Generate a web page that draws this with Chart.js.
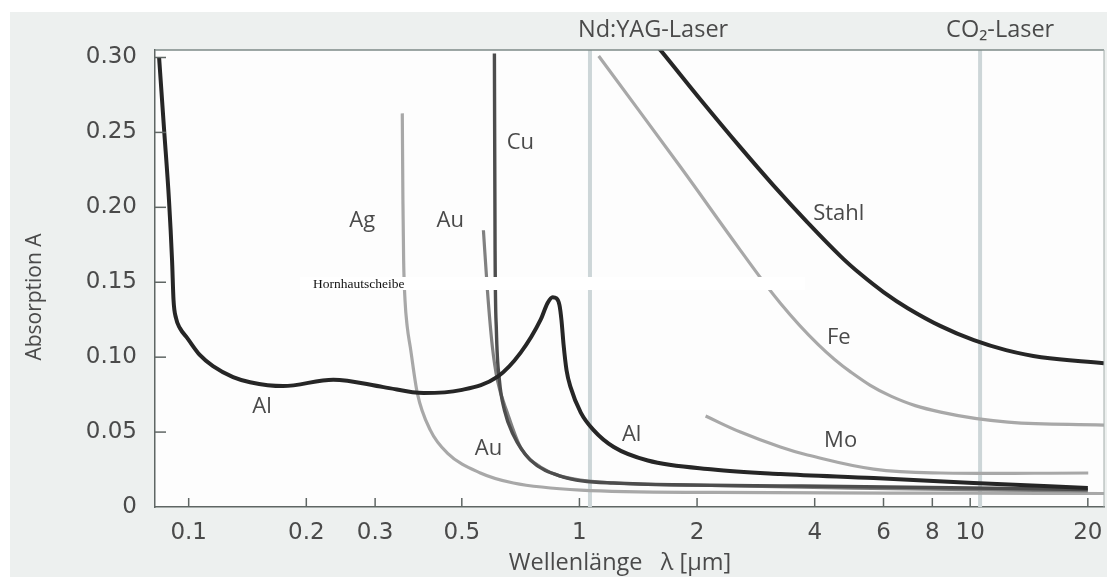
<!DOCTYPE html>
<html>
<head>
<meta charset="utf-8">
<title>Absorption A</title>
<script src="https://cdn.jsdelivr.net/npm/chart.js@4.4.1/dist/chart.umd.min.js"></script>
<style>
  html, body { margin: 0; padding: 0; background: #fff; }
  #wrap { width: 1107px; height: 577px; }
</style>
</head>
<body>
<div id="wrap"><canvas id="chart" width="1107" height="577"></canvas></div>
<script>
// wavelength in µm  ->  absorption A
const alX = [0.0840, 0.08647, 0.08905, 0.09067, 0.09146, 0.09281, 0.09501, 0.0992, 0.1069, 0.1154, 0.1299, 0.1436, 0.1744, 0.2345, 0.3153, 0.3992, 0.4966, 0.6177, 0.7073, 0.7957, 0.8283, 0.8538, 0.8733, 0.8890, 0.8995, 0.9110, 0.9268, 0.949, 1.008, 1.087, 1.224, 1.496, 2.20, 3.27, 5.66, 10.2, 20.0];
const alY = [0.300, 0.2527, 0.2047, 0.1647, 0.138, 0.126, 0.1193, 0.1127, 0.1013, 0.094, 0.0867, 0.0833, 0.0807, 0.085, 0.080, 0.076, 0.078, 0.087, 0.103, 0.125, 0.136, 0.140, 0.1393, 0.1347, 0.1247, 0.108, 0.0913, 0.080, 0.063, 0.0513, 0.040, 0.031, 0.025, 0.022, 0.0193, 0.016, 0.0127];

const agX = [0.3521, 0.3534, 0.3549, 0.3578, 0.3626, 0.3691, 0.3847, 0.4153, 0.4592, 0.5578, 0.6777, 1.0077, 2.20, 10.0, 22.0];
const agY = [0.2627, 0.2047, 0.1647, 0.138, 0.120, 0.1067, 0.076, 0.0513, 0.036, 0.0227, 0.016, 0.0113, 0.0097, 0.0092, 0.009];

const auX = [0.5679, 0.5814, 0.5988, 0.6166, 0.6542, 0.7062, 0.7948, 1.0062, 2.0, 5.0, 20.0];
const auY = [0.1847, 0.1447, 0.1067, 0.0847, 0.0627, 0.040, 0.0267, 0.018, 0.0145, 0.0125, 0.0108];

const cuX = [0.6059, 0.6083, 0.6130, 0.6240, 0.6427, 0.6777, 0.7493, 0.9102, 1.2226, 3.7, 20.0];
const cuY = [0.3027, 0.1713, 0.118, 0.0847, 0.0647, 0.048, 0.0313, 0.020, 0.016, 0.014, 0.0117];

const stahlX = [1.538, 1.6148, 2.04, 2.5826, 3.1356, 3.8329, 4.6618, 5.250, 6.011, 6.9218, 8.4036, 10.217, 12.35, 15.19, 22.0];
const stahlY = [0.311, 0.3047, 0.272, 0.240, 0.2147, 0.190, 0.1673, 0.1553, 0.1433, 0.1327, 0.1207, 0.1113, 0.1047, 0.100, 0.096];

const feX = [1.1201, 1.8163, 2.5826, 3.2677, 4.073, 4.950, 6.266, 8.404, 12.50, 22.0];
const feY = [0.301, 0.2267, 0.1713, 0.136, 0.1087, 0.090, 0.074, 0.0633, 0.0567, 0.0547];

const moX = [2.1031, 2.5826, 3.2677, 3.8329, 5.6626, 8.4036, 20.05];
const moY = [0.0607, 0.050, 0.040, 0.0347, 0.0253, 0.0227, 0.0227];

const xTicks = [0.1, 0.2, 0.3, 0.5, 1, 2, 4, 6, 8, 10, 20];
const yTicks = [0, 0.05, 0.10, 0.15, 0.20, 0.25, 0.30];

const laserX = [1.064, 10.6];
const laserNames = ["Nd:YAG-Laser", "CO\u2082-Laser"];

const curveNames = ["Ag", "Au", "Cu", "Al", "Au", "Al", "Stahl", "Fe", "Mo"];
const curveNameX = [0.278, 0.467, 0.706, 0.154, 0.585, 1.36, 4.61, 4.61, 4.66];
const curveNameY = [0.191, 0.191, 0.243, 0.067, 0.039, 0.048, 0.196, 0.113, 0.044];

const FONT = "'Open Sans', 'DejaVu Sans', sans-serif";
const TICK_FONT = "'DejaVu Sans', sans-serif";
const TEXT = "#4a4a4a";

const pts = (xs, ys) => xs.map((x, i) => ({ x: x, y: ys[i] }));

// steep curves keep monotone interpolation, the gentle ones get a plain bezier
function line(data, color, width, order, gentle) {
  return {
    data: data,
    borderColor: color,
    borderWidth: width,
    pointRadius: 0,
    fill: false,
    cubicInterpolationMode: gentle ? "default" : "monotone",
    tension: gentle ? 0.4 : 0,
    order: order
  };
}

// paper, plot background, laser lines, extra text
const decor = {
  id: "decor",
  beforeDraw(chart) {
    const ctx = chart.ctx, a = chart.chartArea;
    ctx.save();
    ctx.fillStyle = "#ffffff";
    ctx.fillRect(0, 0, chart.width, chart.height);
    ctx.fillStyle = "#edf0ef";
    ctx.fillRect(10, 12, chart.width - 10, chart.height - 12);
    ctx.fillStyle = "#fdfdfd";
    ctx.fillRect(a.left, a.top, a.right - a.left, a.bottom - a.top);
    ctx.restore();
  },
  beforeDatasetsDraw(chart) {
    const ctx = chart.ctx, a = chart.chartArea, xs = chart.scales.x;
    ctx.save();
    ctx.strokeStyle = "#cdd6d8";
    ctx.lineWidth = 4;
    laserX.forEach((v) => {
      const px = xs.getPixelForValue(v);
      ctx.beginPath();
      ctx.moveTo(px, a.top);
      ctx.lineTo(px, a.bottom);
      ctx.stroke();
    });
    ctx.restore();
  },
  afterDatasetsDraw(chart) {
    const ctx = chart.ctx, a = chart.chartArea;
    const xs = chart.scales.x, ys = chart.scales.y;
    ctx.save();

    // pasted white strip with note
    ctx.fillStyle = "#ffffff";
    ctx.fillRect(300, 277, 505, 13);
    ctx.fillStyle = "#111";
    ctx.font = "13.5px 'Liberation Serif', serif";
    ctx.textAlign = "left";
    ctx.textBaseline = "alphabetic";
    ctx.fillText("Hornhautscheibe", 313, 288);

    // frame top / right
    ctx.strokeStyle = "#7d8a87";
    ctx.lineWidth = 1.5;
    ctx.beginPath();
    ctx.moveTo(a.left, a.top);
    ctx.lineTo(a.right, a.top);
    ctx.stroke();
    ctx.strokeStyle = "#a3acaa";
    ctx.lineWidth = 1;
    ctx.beginPath();
    ctx.moveTo(a.right, a.top);
    ctx.lineTo(a.right, a.bottom);
    ctx.stroke();

    // inward ticks
    ctx.strokeStyle = "#5f6664";
    ctx.lineWidth = 1.5;
    yTicks.slice(1).forEach((v) => {
      const py = ys.getPixelForValue(v);
      ctx.beginPath();
      ctx.moveTo(a.left, py);
      ctx.lineTo(a.left + 11, py);
      ctx.stroke();
    });
    xTicks.forEach((v) => {
      const px = xs.getPixelForValue(v);
      ctx.beginPath();
      ctx.moveTo(px, a.bottom);
      ctx.lineTo(px, a.bottom - 9);
      ctx.stroke();
    });

    // curve names
    ctx.fillStyle = TEXT;
    ctx.font = "22px " + FONT;
    ctx.textAlign = "center";
    ctx.textBaseline = "middle";
    curveNames.forEach((n, i) => {
      ctx.fillText(n, xs.getPixelForValue(curveNameX[i]), ys.getPixelForValue(curveNameY[i]));
    });

    // laser names above the frame
    ctx.font = "23.5px " + FONT;
    ctx.textAlign = "left";
    ctx.fillText(laserNames[0], xs.getPixelForValue(laserX[0]) - 12, 30);
    ctx.fillText(laserNames[1], xs.getPixelForValue(laserX[1]) - 34, 30);

    // axis titles
    ctx.textAlign = "center";
    ctx.font = "23.5px " + FONT;
    ctx.fillText("Wellenl\u00e4nge   \u03bb [\u00b5m]", 620, 563);
    ctx.font = "21px " + FONT;
    ctx.save();
    ctx.translate(35, 297);
    ctx.rotate(-Math.PI / 2);
    ctx.fillText("Absorption A", 0, 0);
    ctx.restore();

    ctx.restore();
  }
};

new Chart(document.getElementById("chart"), {
  type: "line",
  data: {
    datasets: [
      line(pts(agX, agY), "#a8a8a8", 3.2, 6, false),
      line(pts(feX, feY), "#a8a8a8", 3.2, 5, true),
      line(pts(moX, moY), "#a8a8a8", 3.2, 4, true),
      line(pts(auX, auY), "#808080", 3.2, 3, false),
      line(pts(cuX, cuY), "#4d4d4d", 3.4, 2, false),
      line(pts(stahlX, stahlY), "#262626", 4, 1, true),
      line(pts(alX, alY), "#262626", 4, 0, false)
    ]
  },
  options: {
    responsive: false,
    devicePixelRatio: 1,
    animation: false,
    layout: { padding: { left: 0, top: 50, right: 3, bottom: 0 } },
    plugins: { legend: { display: false }, tooltip: { enabled: false } },
    scales: {
      x: {
        type: "logarithmic",
        min: 0.082,
        max: 22,
        grid: { display: false, drawTicks: false },
        border: { display: true, color: "#5f6664", width: 1.5 },
        afterBuildTicks: (s) => { s.ticks = xTicks.map((v) => ({ value: v })); },
        afterFit: (s) => { s.height = 70; s.paddingLeft = 0; s.paddingRight = 0; },
        ticks: {
          autoSkip: false,
          maxRotation: 0,
          padding: 12,
          color: TEXT,
          font: { family: TICK_FONT, size: 23 },
          callback: (v) => String(v)
        }
      },
      y: {
        min: 0,
        max: 0.305,
        grid: { display: false, drawTicks: false },
        border: { display: true, color: "#5f6664", width: 1.5 },
        afterBuildTicks: (s) => { s.ticks = yTicks.map((v) => ({ value: v })); },
        afterFit: (s) => { s.width = 155; s.paddingTop = 0; s.paddingBottom = 0; },
        ticks: {
          padding: 18,
          color: TEXT,
          font: { family: TICK_FONT, size: 23 },
          callback: (v) => (v === 0 ? "0" : v.toFixed(2))
        }
      }
    }
  },
  plugins: [decor]
});
</script>
</body>
</html>
